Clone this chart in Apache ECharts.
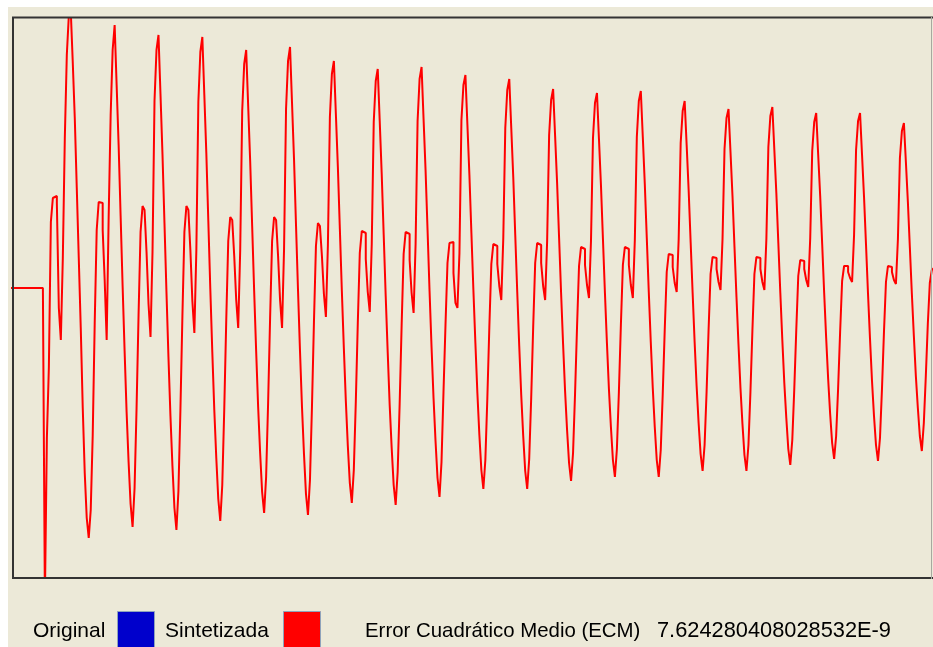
<!DOCTYPE html>
<html>
<head>
<meta charset="utf-8">
<script src="https://cdn.jsdelivr.net/npm/echarts@6/dist/echarts.min.js"></script>
<style>
html,body{margin:0;padding:0;background:#ffffff;}
#chart{width:933px;height:647px;}
</style>
</head>
<body>
<div id="chart"></div>
<script>
// Signal amplitude samples (arbitrary units), one sample per step of the held waveform.
const leadIn = [0,0,0,0,0,0,0,0,0,0,0,0,0,0,0,0,0];
const cycle01 = [-312,-150,-79,66,90,92,85,-20,-52,30,150,233,272,276,225,170,100,30,-40,-120,-185,-230];
const cycle02 = [-250,-222,-147,-35,58,86,85,58,8,-52,71,173,238,263,203,143,72,2,-63,-124,-174,-216];
const cycle03 = [-239,-200,-120,-27,56,82,78,36,-16,-49,36,187,238,253,194,134,65,-4,-69,-128,-178,-220];
const cycle04 = [-242,-203,-122,-28,56,82,78,38,-13,-45,38,186,236,251,193,135,67,-1,-64,-122,-170,-211];
const cycle05 = [-233,-197,-121,-32,47,71,68,32,-12,-40,38,177,224,238,182,127,62,-3,-63,-119,-165,-204];
const cycle06 = [-225,-189,-115,-30,47,71,68,32,-12,-40,39,179,227,241,185,129,63,-2,-63,-119,-166,-206];
const cycle07 = [-227,-192,-119,-34,42,65,62,32,-6,-29,43,171,214,227,174,121,59,-3,-60,-113,-158,-195];
const cycle08 = [-215,-182,-114,-35,35,57,55,29,-4,-24,44,166,207,219,167,114,53,-8,-64,-117,-160,-197];
const cycle09 = [-217,-184,-116,-37,34,56,54,28,-5,-25,44,167,209,221,169,118,58,-3,-59,-110,-153,-190];
const cycle10 = [-209,-174,-104,-37,25,45,46,15,-15,-20,35,168,203,213,163,113,55,-2,-55,-105,-147,-182];
const cycle11 = [-201,-172,-110,-39,24,44,42,24,2,-12,50,160,198,209,160,111,53,-4,-58,-107,-148,-183];
const cycle12 = [-201,-171,-110,-39,25,45,43,25,2,-12,47,153,188,199,152,105,50,-5,-56,-103,-142,-175];
const cycle13 = [-193,-165,-106,-39,22,41,39,23,3,-10,47,150,185,195,149,103,49,-5,-55,-101,-139,-172];
const cycle14 = [-189,-161,-104,-37,23,41,39,23,3,-10,48,151,187,197,151,104,50,-4,-54,-100,-139,-172];
const cycle15 = [-189,-162,-106,-42,16,34,33,21,5,-4,49,145,177,187,143,98,46,-5,-54,-98,-135,-166];
const cycle16 = [-183,-157,-104,-42,14,31,30,19,6,-2,49,139,170,179,136,92,41,-9,-56,-100,-136,-167];
const cycle17 = [-183,-157,-104,-42,14,31,30,19,6,-2,49,141,172,181,138,95,45,-5,-52,-95,-130,-161];
const cycle18 = [-177,-152,-101,-42,12,28,27,19,8,1,50,137,166,175,133,92,44,-5,-50,-91,-126,-155];
const cycle19 = [-171,-148,-100,-44,7,22,22,16,10,6,53,138,167,175,133,91,43,-6,-51,-93,-128,-157];
const cycle20 = [-173,-150,-101,-44,6,22,21,16,8,4,49,130,157,165,126,86,40,-6,-48,-88,-120,-148];
const tail = [-163,-135,-88,-36,5,18,20];

const legendLabels = ['Original', 'Sintetizada'];
const legendColors = ['#0000cc', '#ff0000'];
const errorLabel = 'Error Cuadrático Medio (ECM)';
const errorValue = '7.624280408028532E-9';

const signal = [].concat(leadIn, cycle01, cycle02, cycle03, cycle04, cycle05, cycle06, cycle07,
  cycle08, cycle09, cycle10, cycle11, cycle12, cycle13, cycle14, cycle15, cycle16, cycle17,
  cycle18, cycle19, cycle20, tail);
const seriesData = signal.map((v, i) => [i, v]);

const chart = echarts.init(document.getElementById('chart'), null, {renderer: 'canvas'});
const fontWords = '21px "Liberation Sans", Arial, sans-serif';
const fontLabel = '20.4px "Liberation Sans", Arial, sans-serif';
const fontNumber = '21.8px "Liberation Sans", Arial, sans-serif';
chart.setOption({
  backgroundColor: '#ece9d8',
  animation: false,
  grid: {left: 12, right: 1, top: 18, bottom: 69, show: false},
  xAxis: {type: 'value', min: 0.5, max: 462.1, show: false},
  yAxis: {type: 'value', min: -290, max: 270, show: false},
  series: [{
    name: legendLabels[1],
    type: 'line',
    step: 'end',
    data: seriesData,
    showSymbol: false,
    clip: true,
    lineStyle: {color: legendColors[1], width: 2},
    z: 2
  }],
  graphic: [
    {type: 'rect', shape: {x: 0, y: 0, width: 933, height: 7}, style: {fill: '#ffffff'}, silent: true},
    {type: 'rect', shape: {x: 0, y: 0, width: 8, height: 647}, style: {fill: '#ffffff'}, silent: true},
    {type: 'line', shape: {x1: 13, y1: 17, x2: 13, y2: 579}, style: {stroke: '#333333', lineWidth: 2}, z: 10},
    {type: 'line', shape: {x1: 12, y1: 17.5, x2: 933, y2: 17.5}, style: {stroke: '#333333', lineWidth: 2}, z: 10},
    {type: 'line', shape: {x1: 12, y1: 578, x2: 933, y2: 578}, style: {stroke: '#333333', lineWidth: 2}, z: 10},
    {type: 'line', shape: {x1: 931.5, y1: 17, x2: 931.5, y2: 579}, style: {stroke: '#a8a8a0', lineWidth: 1}, z: 10},
    {type: 'text', style: {x: 33, y: 631, text: legendLabels[0], font: fontWords, fill: '#000', verticalAlign: 'middle', align: 'left'}},
    {type: 'rect', shape: {x: 117.5, y: 611.5, width: 37, height: 40}, style: {fill: legendColors[0], stroke: '#8fa3bb', lineWidth: 1}},
    {type: 'text', style: {x: 165, y: 631, text: legendLabels[1], font: fontWords, fill: '#000', verticalAlign: 'middle', align: 'left'}},
    {type: 'rect', shape: {x: 283.5, y: 611.5, width: 37, height: 40}, style: {fill: legendColors[1], stroke: '#8fa3bb', lineWidth: 1}},
    {type: 'text', style: {x: 365, y: 631, text: errorLabel, font: fontLabel, fill: '#000', verticalAlign: 'middle', align: 'left'}},
    {type: 'text', style: {x: 657, y: 631, text: errorValue, font: fontNumber, fill: '#000', verticalAlign: 'middle', align: 'left'}}
  ]
});
</script>
</body>
</html>
